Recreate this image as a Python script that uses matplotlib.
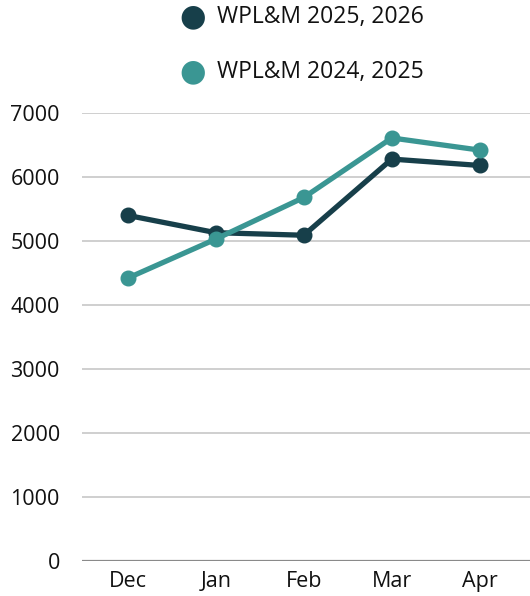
import matplotlib.pyplot as plt

months = ['Dec', 'Jan', 'Feb', 'Mar', 'Apr']
wplm_2025_2026 = [5400, 5130, 5090, 6280, 6180]
wplm_2024_2025 = [4420, 5030, 5680, 6610, 6420]
yticks = [0, 1000, 2000, 3000, 4000, 5000, 6000, 7000]

dark = '#173f4a'
teal = '#3a9693'

plt.rcParams['font.family'] = ['Open Sans', 'DejaVu Sans']

fig = plt.figure(figsize=(5.3, 5.96), dpi=100)
ax = fig.add_axes([82 / 530, 1 - 561 / 596, 448 / 530, 448 / 596])

x = list(range(len(months)))
ax.plot(x, wplm_2025_2026, color=dark, lw=3.8, marker='o', ms=10.5,
        solid_capstyle='round', zorder=3, label='WPL&M 2025, 2026')
ax.plot(x, wplm_2024_2025, color=teal, lw=3.8, marker='o', ms=10.5,
        solid_capstyle='round', zorder=4, label='WPL&M 2024, 2025')

ax.set_xlim(-0.52, 4.57)
ax.set_ylim(0, 7000)
ax.set_yticks(yticks)
ax.set_xticks(x)
ax.set_xticklabels(months)
ax.grid(axis='y', color='#cccccc', lw=1.3)
ax.set_axisbelow(True)
for s in ax.spines.values():
    s.set_visible(False)
ax.axhline(0, color='#8a8a8a', lw=1.6, zorder=2)
ax.tick_params(length=0, labelsize=15.5, colors='#111111')
ax.tick_params(axis='y', pad=16)
ax.tick_params(axis='x', pad=7)
for t in ax.get_xticklabels() + ax.get_yticklabels():
    t.set_fontweight('medium')

# legend stacked above the plot
for i, (lbl, c) in enumerate([('WPL&M 2025, 2026', dark), ('WPL&M 2024, 2025', teal)]):
    yy = 1 - (17 + 55 * i) / 596
    fig.text(193 / 530, yy, '\u25CF', color=c, fontsize=22, ha='center', va='center',
             family=['DejaVu Sans'])
    fig.text(217 / 530, yy, lbl, color='#111111', fontsize=16.5, ha='left', va='center',
             weight='medium')

fig.savefig('out.png', dpi=100)
